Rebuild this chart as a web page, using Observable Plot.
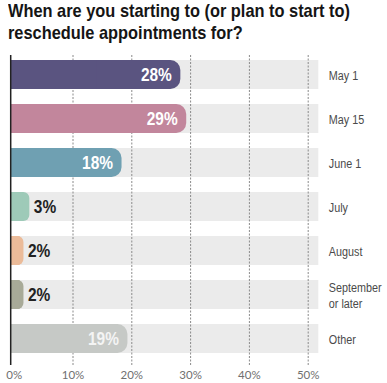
<!DOCTYPE html>
<html><head><meta charset="utf-8">
<script src="https://cdn.jsdelivr.net/npm/d3@7"></script>
<script src="https://cdn.jsdelivr.net/npm/@observablehq/plot@0.6"></script>
<style>
body{margin:0;background:#fff;width:387px;height:383px;overflow:hidden}
#title{height:50px;position:relative;overflow:visible}
#title div{position:absolute;left:8px;white-space:nowrap;font-family:"Liberation Sans",Arial,sans-serif;font-weight:bold;font-size:18.5px;line-height:22px;color:#151515;transform-origin:0 0}
</style></head>
<body>
<div id="title"><div id="t1" style="top:0px">When are you starting to (or plan to start to)</div><div id="t2" style="top:21.5px">reschedule appointments for?</div></div>
<div id="chart"></div>
<script>
const categories = ["May 1","May 15","June 1","July","August","September\nor later","Other"];
const values = [28, 29, 18, 3, 2, 2, 19];
const colors = ["#5a5480","#c2869c","#6fa0b2","#9ecab8","#ebbb99","#a8aa98","#c6c9c6"];
const labelColors = ["#fff","#fff","#fff","#222","#222","#222","#f4f4f4"];
const xTicks = [0,10,20,30,40,50];
const gridTicks = [10,20,30,40,50];
const bgMax = 51.8;
const insideThreshold = 10;

// condense title to the reference's narrow face
const titleWidth = 342;
const t1 = document.getElementById("t1"), t2 = document.getElementById("t2");
const s = titleWidth / t1.getBoundingClientRect().width;
t1.style.transform = `scaleX(${s})`;
t2.style.transform = `scaleX(${s})`;

const data = categories.map((c,i)=>({cat:c, value:values[i], color:colors[i], lc:labelColors[i]}));
const big = data.filter(d=>d.value>=insideThreshold);
const small = data.filter(d=>d.value<insideThreshold);
const font = '"Liberation Sans",Arial,sans-serif';

const chart = Plot.plot({
  width: 387,
  height: 333,
  marginTop: 5,
  marginBottom: 18,
  marginLeft: 0,
  marginRight: 0,
  x: {domain:[0,50], range:[13.7,307.7]},
  y: {domain: categories, range:[2.5,310.5], paddingInner:0.34, paddingOuter:0.17, axis:null},
  style: {background:"transparent"},
  marks: [
    Plot.barX(data, {y:"cat", x1:0, x2:bgMax, fill:"#ebebeb", insetLeft:-3}),
    Plot.ruleX(gridTicks, {stroke:"#8a8a8a", strokeDasharray:"2,1.5", strokeWidth:1}),
    Plot.barX(big, {y:"cat", x1:0, x2:"value", fill:d=>d.color, rx:10, insetLeft:-3, insetRight:-2}),
    Plot.barX(small, {y:"cat", x1:0, x2:"value", fill:d=>d.color, rx:6, insetLeft:-3, insetRight:2}),
    Plot.barX(data, {y:"cat", x1:0, x2:d=>d.value/2, fill:d=>d.color, insetLeft:-3}),
    Plot.ruleX([0], {stroke:"#222", strokeWidth:1.5, dx:-3.5}),
    Plot.text(big, {className:"vlab", y:"cat", x:"value", text:d=>d.value+"%", fill:d=>d.lc, textAnchor:"end", dx:-7, fontSize:18, fontWeight:"bold", fontFamily:font}),
    Plot.text(small, {className:"vlab", y:"cat", x:"value", text:d=>d.value+"%", fill:d=>d.lc, textAnchor:"start", dx:2, fontSize:18, fontWeight:"bold", fontFamily:font}),
    Plot.text(data, {className:"clab", y:"cat", x:bgMax, text:"cat", textAnchor:"start", dx:10, fill:"#4a4a4a", fontSize:13.5, fontFamily:font, lineHeight:1.15}),
    Plot.axisX(xTicks, {tickSize:0, tickPadding:5, tickFormat:d=>d+"%", fontSize:11.5, fill:"#707070", fontFamily:"Lato, sans-serif", label:null})
  ]
});
document.getElementById("chart").appendChild(chart);
// narrow (condensed) rendering of the label texts
d3.select(chart).selectAll(".vlab text").attr("transform", function(){ return (this.getAttribute("transform")||"") + " scale(0.86,1)"; });
d3.select(chart).selectAll(".clab text").attr("transform", function(){ return (this.getAttribute("transform")||"") + " scale(0.8,1)"; });
</script>
</body></html>
